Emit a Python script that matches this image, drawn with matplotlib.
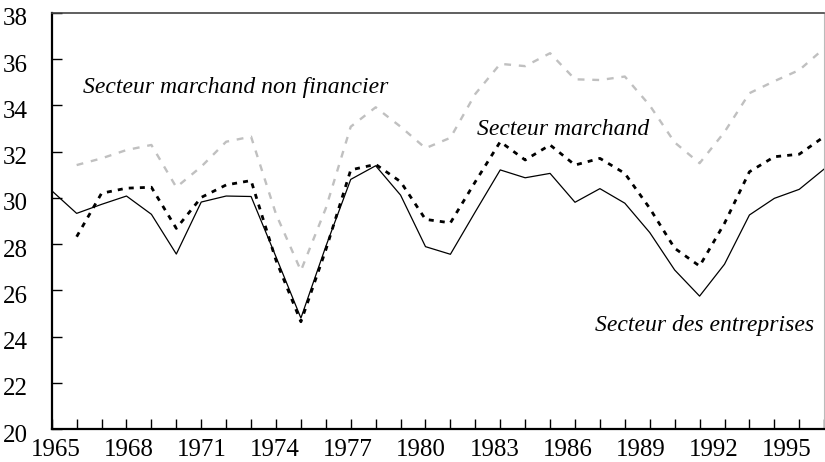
import numpy as np
import matplotlib
matplotlib.use("Agg")
import matplotlib.pyplot as plt
import matplotlib.transforms as mtransforms

plt.rcParams['font.family'] = ['Liberation Serif', 'DejaVu Serif']

years = np.arange(1965, 1997)

# taux de marge, secteur des entreprises
entreprises = [30.31, 29.33, 29.72, 30.08, 29.29, 27.57, 29.82, 30.08, 30.06, 27.45,
               24.80, 27.90, 30.80, 31.39, 30.12, 27.89, 27.56, 29.40, 31.21, 30.87,
               31.06, 29.81, 30.40, 29.77, 28.50, 26.88, 25.75, 27.13, 29.26, 29.98,
               30.37, 31.25]

# secteur marchand (pas de valeur en 1965)
marchand = [np.nan, 28.32, 30.20, 30.42, 30.46, 28.68, 30.02, 30.56, 30.75, 27.30,
            24.64, 27.75, 31.21, 31.45, 30.70, 29.07, 28.92, 30.70, 32.43, 31.64,
            32.29, 31.42, 31.71, 31.06, 29.55, 27.82, 27.05, 28.90, 31.13, 31.78,
            31.89, 32.65]

# secteur marchand non financier
non_financier = [np.nan, 31.42, 31.71, 32.07, 32.29, 30.46, 31.35, 32.43, 32.65, 29.30,
                 26.85, 29.55, 33.08, 33.92, 33.08, 32.15, 32.60, 34.50, 35.80, 35.70,
                 36.26, 35.13, 35.10, 35.25, 34.00, 32.40, 31.50, 32.85, 34.53, 35.05,
                 35.53, 36.47]

year_labels = [str(y) for y in range(1965, 1996, 3)]
y_ticks = list(range(20, 39, 2))

fig = plt.figure(figsize=(8.25, 4.62), dpi=100)
ax = fig.add_axes([0.0627, 0.0714, 0.9363, 0.9005])

ax.plot(years, non_financier, color='#c0c0c0', lw=1.7, ls=(0, (2.9, 3.3)))
ax.plot(years, marchand, color='black', lw=2.0, ls=(0, (1.8, 2.2)))
ax.plot(years, entreprises, color='black', lw=0.9)

ax.set_xlim(1965, 1995.9)
ax.set_ylim(20, 38)

# year ticks every year, labels every three years (set a touch tighter than the ticks)
ax.set_xticks(years, minor=True)
label_pos = 1965.17 + np.arange(len(year_labels)) * 2.932
ax.set_xticks(label_pos)
ax.set_xticklabels(year_labels)
ax.tick_params(axis='x', which='major', length=0, pad=7, labelsize=18)
ax.tick_params(axis='x', which='minor', direction='in', length=7, width=1, color='black')

ax.set_yticks(y_ticks)
ax.tick_params(axis='y', direction='in', length=7, width=1, pad=17, labelsize=18)
shift = mtransforms.ScaledTranslation(0, -0.04, fig.dpi_scale_trans)
for lab in ax.get_yticklabels():
    lab.set_transform(lab.get_transform() + shift)

ax.spines['left'].set_linewidth(1.6)
ax.spines['bottom'].set_linewidth(1.6)
ax.spines['top'].set_color('#444444')
ax.spines['top'].set_linewidth(1.2)
ax.spines['right'].set_color('#bbbbbb')
ax.spines['right'].set_linewidth(0.8)

lab_kw = dict(style='italic', fontsize=17, color='black', va='center')
ax.text(1966.25, 34.76, 'Secteur marchand non financier', ha='left', **lab_kw)
ax.text(1982.05, 32.94, 'Secteur marchand', ha='left', **lab_kw)
ax.text(1995.6, 24.5, 'Secteur des entreprises', ha='right', **lab_kw)

fig.savefig('out.png', dpi=100)
